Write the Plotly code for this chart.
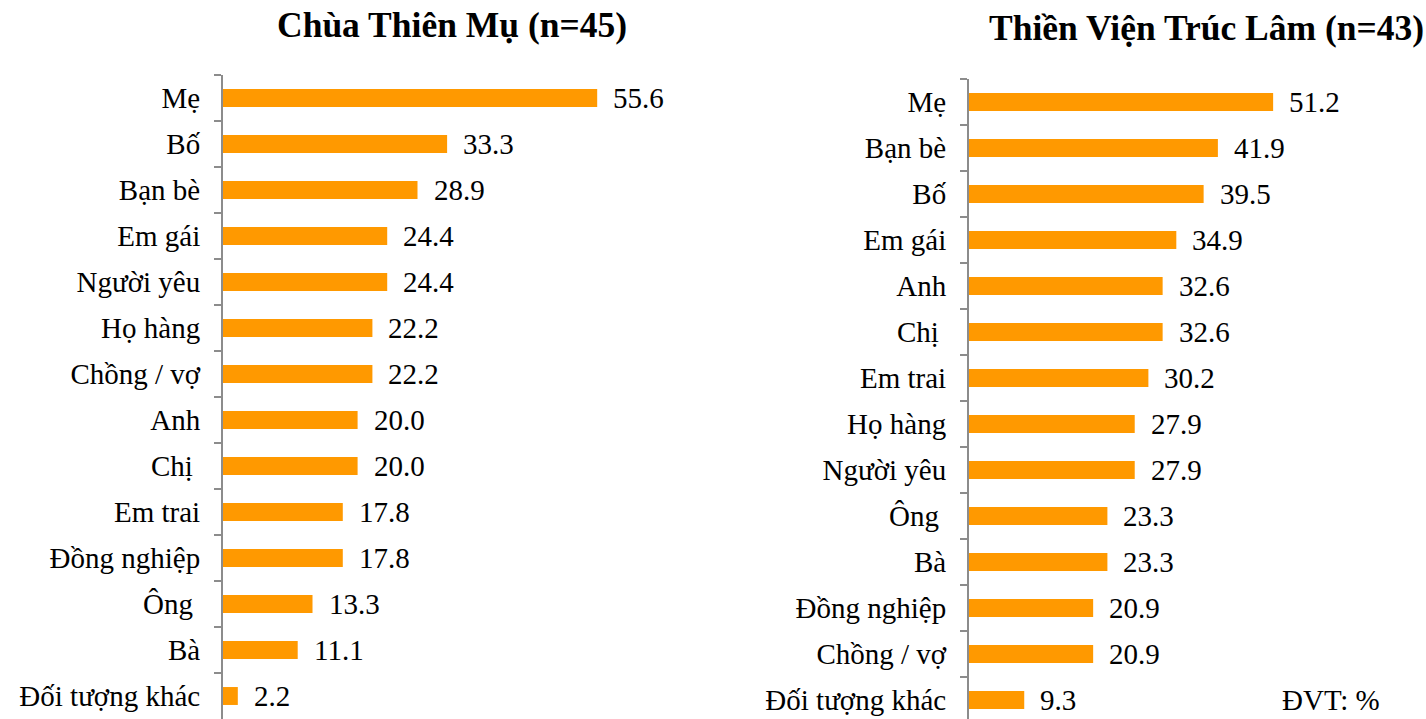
import plotly.graph_objects as go

# Data
left_title = "Chùa Thiên Mụ (n=45)"
left_categories = ["Mẹ", "Bố", "Bạn bè", "Em gái", "Người yêu", "Họ hàng", "Chồng / vợ",
                   "Anh", "Chị ", "Em trai", "Đồng nghiệp", "Ông ", "Bà", "Đối tượng khác"]
left_values = [55.6, 33.3, 28.9, 24.4, 24.4, 22.2, 22.2, 20.0, 20.0, 17.8, 17.8, 13.3, 11.1, 2.2]

right_title = "Thiền Viện Trúc Lâm (n=43)"
right_categories = ["Mẹ", "Bạn bè", "Bố", "Em gái", "Anh", "Chị ", "Em trai", "Họ hàng",
                    "Người yêu", "Ông ", "Bà", "Đồng nghiệp", "Chồng / vợ", "Đối tượng khác"]
right_values = [51.2, 41.9, 39.5, 34.9, 32.6, 32.6, 30.2, 27.9, 27.9, 23.3, 23.3, 20.9, 20.9, 9.3]

unit_note = "ĐVT: %"

BAR_COLOR = "#FF9900"
AXIS_COLOR = "#8C8C8C"
FONT = "Liberation Serif, Times New Roman, serif"
W, H = 1426, 719

fig = go.Figure()
fig.add_trace(go.Bar(x=left_values, y=left_categories, orientation="h",
                     marker=dict(color=BAR_COLOR, line=dict(width=0)),
                     xaxis="x", yaxis="y", width=0.39, hoverinfo="x+y"))
fig.add_trace(go.Bar(x=right_values, y=right_categories, orientation="h",
                     marker=dict(color=BAR_COLOR, line=dict(width=0)),
                     xaxis="x2", yaxis="y2", width=0.39, hoverinfo="x+y"))

VAL_SIZE = 29
annotations = []
for c, v in zip(left_categories, left_values):
    annotations.append(dict(x=v, y=c, xref="x", yref="y", text=f"{v:.1f}", showarrow=False,
                            xanchor="left", yanchor="middle", xshift=14,
                            font=dict(family=FONT, size=VAL_SIZE, color="#000")))
for c, v in zip(right_categories, right_values):
    annotations.append(dict(x=v, y=c, xref="x2", yref="y2", text=f"{v:.1f}", showarrow=False,
                            xanchor="left", yanchor="middle", xshift=14,
                            font=dict(family=FONT, size=VAL_SIZE, color="#000")))
annotations.append(dict(x=452 / W, y=1 - 25 / H, xref="paper", yref="paper", text=f"<b>{left_title}</b>",
                        showarrow=False, xanchor="center", yanchor="middle",
                        font=dict(family=FONT, size=35.5, color="#000")))
annotations.append(dict(x=1206 / W, y=1 - 28 / H, xref="paper", yref="paper", text=f"<b>{right_title}</b>",
                        showarrow=False, xanchor="center", yanchor="middle",
                        font=dict(family=FONT, size=35.5, color="#000")))
annotations.append(dict(x=1331 / W, y=1 - 700 / H, xref="paper", yref="paper", text=unit_note,
                        showarrow=False, xanchor="center", yanchor="middle",
                        font=dict(family=FONT, size=VAL_SIZE, color="#000")))

row_px = 46.0
left_top, right_top = 75, 79
left_axis_x, right_axis_x = 223, 969
left_scale, right_scale = 6.73, 5.94

yaxis_common = dict(type="category", showline=True, linecolor=AXIS_COLOR, linewidth=2,
                    ticks="outside", tickson="boundaries", ticklen=7, tickcolor=AXIS_COLOR,
                    tickwidth=2, showgrid=False, zeroline=False, ticklabelstandoff=15,
                    tickfont=dict(family=FONT, size=29, color="#000"), fixedrange=True)

fig.update_layout(
    width=W, height=H, margin=dict(l=0, r=0, t=0, b=0),
    paper_bgcolor="white", plot_bgcolor="white", showlegend=False,
    font=dict(family=FONT, color="#000"),
    xaxis=dict(domain=[left_axis_x / W, 700 / W], range=[0, (700 - left_axis_x) / left_scale],
               visible=False, anchor="y", fixedrange=True),
    yaxis=dict(domain=[0, 1 - left_top / H],
               range=[-0.5 + (H - left_top) / row_px, -0.5], anchor="x", **yaxis_common),
    xaxis2=dict(domain=[right_axis_x / W, 1], range=[0, (W - right_axis_x) / right_scale],
                visible=False, anchor="y2", fixedrange=True),
    yaxis2=dict(domain=[0, 1 - right_top / H],
                range=[-0.5 + (H - right_top) / row_px, -0.5], anchor="x2", **yaxis_common),
    annotations=annotations,
)

fig.write_html("out.html", config={"displayModeBar": False},
               post_script="document.body.style.margin='0';document.body.style.overflow='hidden';")
